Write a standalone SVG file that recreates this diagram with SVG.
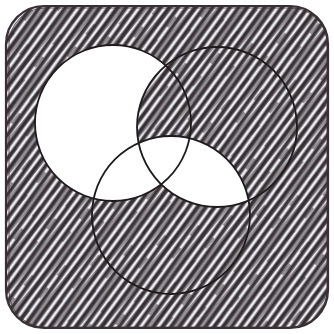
<svg xmlns="http://www.w3.org/2000/svg" width="334" height="334" viewBox="0 0 334 334">
<style>
.hatch{fill:url(#h1)}
.hatch2{fill:url(#h2);opacity:0.45}
.white{fill:#ffffff}
.ring{fill:none;stroke:#1f1b1d;stroke-width:1.8}
.frame{fill:none;stroke:#3a3034;stroke-width:2.2}
</style>
<defs>
<pattern id="h1" patternUnits="userSpaceOnUse" width="7" height="7" patternTransform="rotate(-54)">
<rect width="7" height="7" fill="#8e8c94"/>
<rect y="0" width="7" height="2.8" fill="#3b3237"/>
<rect y="3.9" width="7" height="2" fill="#f2f2f5"/>
</pattern>
<pattern id="h2" patternUnits="userSpaceOnUse" width="29" height="19" patternTransform="rotate(-50)">
<rect width="29" height="5" fill="#2e2629"/>
<rect y="11" width="13" height="3" fill="#2e2629"/>
</pattern>
</defs>
<g id="frame">
<rect x="6" y="6" width="322" height="322" rx="38" class="hatch"/>
<rect x="6" y="6" width="322" height="322" rx="38" class="hatch2"/>
<rect x="6" y="6" width="322" height="322" rx="38" class="frame"/>
<rect x="9" y="8" width="318" height="319" rx="36" fill="none" stroke="#3a3034" stroke-width="1" opacity="0.7"/>
</g>
<defs>
<clipPath id="clipB"><circle cx="217" cy="127" r="80"/></clipPath>
</defs>
<g id="circle-a">
<circle cx="113" cy="123" r="78" class="white"/>
</g>
<g id="circle-b">
<circle cx="217" cy="127" r="80" class="hatch"/>
<circle cx="217" cy="127" r="80" class="hatch2"/>
</g>
<g id="circle-c">
<circle cx="171" cy="215" r="79" class="white" clip-path="url(#clipB)"/>
</g>
<g id="outlines">
<circle cx="113" cy="123" r="78" class="ring"/>
<circle cx="217" cy="127" r="80" class="ring"/>
<circle cx="171" cy="215" r="79" class="ring"/>
</g>
<g id="connectors"/>
</svg>
